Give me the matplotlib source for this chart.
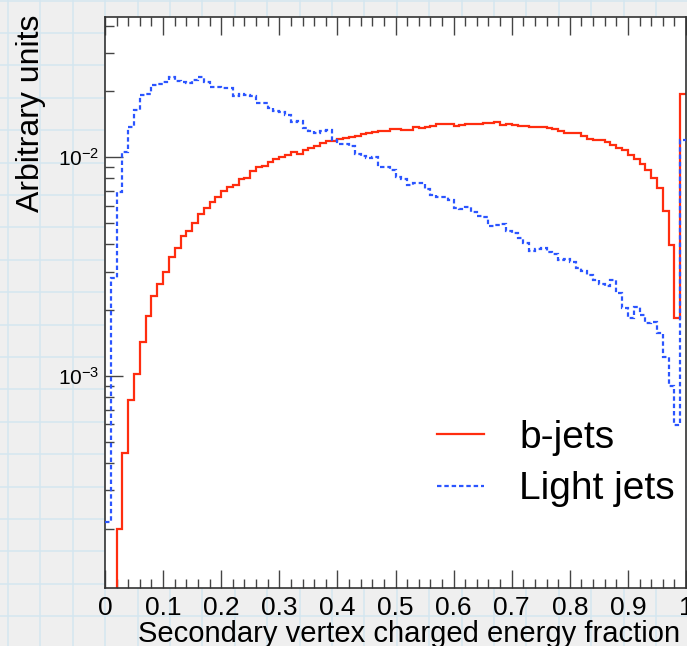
import numpy as np
import matplotlib
matplotlib.use('Agg')
import matplotlib.pyplot as plt
from matplotlib import ticker
from matplotlib.lines import Line2D

plt.rcParams['font.family'] = ['Liberation Sans', 'DejaVu Sans']
plt.rcParams['mathtext.fontset'] = 'custom'
plt.rcParams['mathtext.rm'] = 'Liberation Sans'
plt.rcParams['mathtext.it'] = 'Liberation Sans:italic'

# 100 bins between 0 and 1
bin_edges = np.linspace(0, 1, 101)

# b-jets, one value per bin
b_jets = [
    0, 0, 2.00e-4, 4.43e-4, 7.77e-4, 1.02e-3, 1.435e-3, 1.88e-3, 2.32e-3, 2.63e-3,
    3.00e-3, 3.51e-3, 3.86e-3, 4.34e-3, 4.62e-3, 4.99e-3, 5.50e-3, 5.86e-3, 6.25e-3, 6.61e-3,
    7.04e-3, 7.34e-3, 7.49e-3, 7.99e-3, 8.07e-3, 8.63e-3, 9.00e-3, 9.12e-3, 9.49e-3, 9.79e-3,
    1.006e-2, 1.025e-2, 1.057e-2, 1.035e-2, 1.080e-2, 1.106e-2, 1.130e-2, 1.159e-2, 1.187e-2, 1.187e-2,
    1.212e-2, 1.225e-2, 1.242e-2, 1.255e-2, 1.278e-2, 1.291e-2, 1.305e-2, 1.323e-2, 1.323e-2, 1.343e-2,
    1.343e-2, 1.333e-2, 1.333e-2, 1.376e-2, 1.366e-2, 1.371e-2, 1.390e-2, 1.420e-2, 1.420e-2, 1.420e-2,
    1.390e-2, 1.405e-2, 1.415e-2, 1.415e-2, 1.420e-2, 1.435e-2, 1.435e-2, 1.455e-2, 1.405e-2, 1.420e-2,
    1.405e-2, 1.390e-2, 1.390e-2, 1.380e-2, 1.371e-2, 1.371e-2, 1.366e-2, 1.351e-2, 1.315e-2, 1.296e-2,
    1.296e-2, 1.296e-2, 1.251e-2, 1.216e-2, 1.200e-2, 1.200e-2, 1.178e-2, 1.138e-2, 1.103e-2, 1.080e-2,
    1.025e-2, 9.85e-3, 9.32e-3, 8.75e-3, 8.01e-3, 7.22e-3, 5.70e-3, 3.97e-3, 1.835e-3, 1.942e-2,
]

# light jets
light_jets = [
    2.15e-4, 2.80e-3, 6.96e-3, 1.061e-2, 1.380e-2, 1.645e-2, 1.927e-2, 1.947e-2, 2.141e-2, 2.163e-2,
    2.216e-2, 2.322e-2, 2.240e-2, 2.216e-2, 2.193e-2, 2.257e-2, 2.322e-2, 2.216e-2, 2.103e-2, 2.103e-2,
    2.081e-2, 2.081e-2, 1.907e-2, 1.947e-2, 1.927e-2, 1.907e-2, 1.777e-2, 1.777e-2, 1.675e-2, 1.633e-2,
    1.616e-2, 1.561e-2, 1.455e-2, 1.466e-2, 1.361e-2, 1.319e-2, 1.296e-2, 1.319e-2, 1.333e-2, 1.200e-2,
    1.150e-2, 1.150e-2, 1.126e-2, 1.032e-2, 1.017e-2, 9.89e-3, 1.006e-2, 9.06e-3, 9.00e-3, 8.75e-3,
    8.10e-3, 7.99e-3, 7.45e-3, 7.60e-3, 7.60e-3, 7.14e-3, 6.72e-3, 6.61e-3, 6.56e-3, 6.38e-3,
    5.84e-3, 5.82e-3, 5.91e-3, 5.64e-3, 5.39e-3, 5.32e-3, 4.85e-3, 4.90e-3, 4.95e-3, 4.62e-3,
    4.49e-3, 4.26e-3, 4.07e-3, 3.74e-3, 3.80e-3, 3.84e-3, 3.70e-3, 3.61e-3, 3.39e-3, 3.43e-3,
    3.33e-3, 3.11e-3, 3.03e-3, 2.90e-3, 2.75e-3, 2.63e-3, 2.58e-3, 2.75e-3, 2.39e-3, 2.04e-3,
    1.835e-3, 2.07e-3, 1.90e-3, 1.74e-3, 1.76e-3, 1.57e-3, 1.22e-3, 8.94e-4, 5.97e-4, 1.200e-2,
]

W, H = 687, 646
fig = plt.figure(figsize=(W / 100, H / 100), dpi=100, facecolor='#efefef')

# graph-paper background
for xp in np.arange(8, W, 32.4):
    fig.add_artist(Line2D([xp / W, xp / W], [0, 1], color='#d4e6ef', lw=1.1, zorder=0))
for yp in np.arange(33 - 32.4, H, 32.4):
    fig.add_artist(Line2D([0, 1], [1 - yp / H, 1 - yp / H], color='#d4e6ef', lw=1.1, zorder=0))

ax = fig.add_axes([105 / W, 1 - 588 / H, 581 / W, 571 / H])
ax.set_facecolor('white')

ax.stairs(b_jets, bin_edges, color='#ff2d0f', lw=1.6, baseline=None, label='b-jets', zorder=2)
ax.stairs(light_jets, bin_edges, color='#2b55ff', lw=1.6, ls=(0, (2, 1.3)), baseline=None,
          label='Light jets', zorder=3)

ax.set_yscale('log')
ax.set_xlim(0, 1)
ax.set_ylim(1.07e-4, 4.38e-2)

ax.xaxis.set_major_locator(ticker.MultipleLocator(0.1))
ax.xaxis.set_minor_locator(ticker.MultipleLocator(0.02))
ax.xaxis.set_major_formatter(ticker.FuncFormatter(lambda v, p: f'{v:g}'))
ax.yaxis.set_minor_formatter(ticker.NullFormatter())

ax.tick_params(which='both', direction='in', top=True, right=False, color='#444444', width=1.0)
ax.tick_params(which='major', length=13)
ax.tick_params(which='minor', length=6.5)
ax.tick_params(axis='x', labelsize=19, pad=6)
ax.tick_params(axis='y', labelsize=15, pad=4)
for s in ax.spines.values():
    s.set_color('#333333')
    s.set_linewidth(1.2)

ax.legend(loc='center left', bbox_to_anchor=(0.572, 0.218), frameon=False, fontsize=28,
          handlelength=1.2, handletextpad=0.9, labelspacing=0.4, borderpad=0, borderaxespad=0)

fig.text(31.5 / W, 1 - 15 / H, 'Arbitrary units', rotation=90, ha='center', va='top', fontsize=23)
fig.text(680 / W, 1 - 620 / H, 'Secondary vertex charged energy fraction', ha='right', va='top',
         fontsize=21)

fig.savefig('out.png', dpi=100, facecolor=fig.get_facecolor())
